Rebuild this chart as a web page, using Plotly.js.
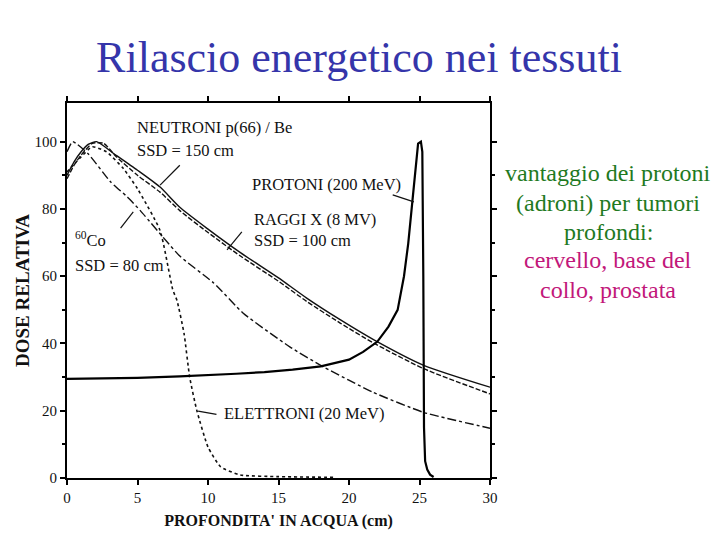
<!DOCTYPE html>
<html>
<head>
<meta charset="utf-8">
<script src="https://cdn.plot.ly/plotly-3.0.1.min.js"></script>
<style>html,body{margin:0;padding:0;background:#fff;}#chart{width:720px;height:540px;}</style>
</head>
<body>
<div id="chart"></div>
<script>
// ---- data (depth in cm, relative dose in %) ----
const xTickVals = [0, 5, 10, 15, 20, 25, 30];
const yTickVals = [0, 20, 40, 60, 80, 100];

const neutronDepth = [0, 0.5, 1, 1.8, 2.6, 3.5, 5, 6.6, 8, 10, 12.3, 15, 17, 19.4, 21.8, 25.3, 30];
const neutronDose  = [89, 93, 96, 99.5, 99.5, 95.5, 90, 85, 79.5, 73, 66, 58.5, 52.5, 46, 40, 32.5, 25];

const xrayDepth = [0, 0.5, 1, 1.5, 2.1, 3.3, 5, 6.6, 8, 10, 12.3, 15, 17, 19.4, 21.8, 25.3, 30];
const xrayDose  = [90, 94, 97, 99.2, 100, 96.5, 91.5, 86.5, 80.5, 74, 67, 59.5, 53.5, 47, 41, 33.5, 27];

const cobaltDepth = [0, 0.4, 1.5, 3.1, 4.3, 5.2, 8, 10.4, 12.5, 15.8, 18.2, 21.7, 25.3, 30];
const cobaltDose  = [97, 100, 96.4, 88, 83.5, 79.5, 66, 58, 49, 39, 33, 25.5, 19.5, 14.8];

const electronDepth = [0, 1, 1.8, 2.8, 4, 5, 6.6, 7.5, 7.8, 8.3, 8.7, 9.2, 10, 10.9, 12.3, 15, 19];
const electronDose  = [91, 95.5, 98.5, 97, 92, 86, 73.6, 56, 52.8, 43, 30, 20.2, 9.2, 3.3, 0.9, 0.4, 0.2];

const protonDepth = [0, 2, 5, 8, 10, 12, 14, 16, 18, 20, 21, 22, 22.8, 23.45, 23.9, 24.2, 24.5, 24.7, 24.9, 25.1, 25.2, 25.27, 25.32, 25.4, 25.55, 25.75, 26];
const protonDose  = [29.5, 29.6, 29.8, 30.2, 30.5, 31, 31.5, 32.2, 33.2, 35.2, 37.5, 40.5, 45, 50, 60, 69.7, 82.5, 90.5, 99.4, 100, 97, 60, 15, 5, 2.5, 1, 0.3];

const seriesLabels = ["NEUTRONI p(66) / Be", "RAGGI X (8 MV)", "<sup>60</sup>Co", "ELETTRONI (20 MeV)", "PROTONI (200 MeV)"];

const line = (c, w, d) => ({color: c, width: w, dash: d});
const traces = [
  {x: neutronDepth, y: neutronDose, name: seriesLabels[0], mode: 'lines', line: Object.assign(line('#111', 1.4, '5px,2px'), {shape: 'spline', smoothing: 0.6})},
  {x: xrayDepth, y: xrayDose, name: seriesLabels[1], mode: 'lines', line: Object.assign(line('#111', 1.4, 'solid'), {shape: 'spline', smoothing: 0.6})},
  {x: cobaltDepth, y: cobaltDose, name: seriesLabels[2], mode: 'lines', line: Object.assign(line('#111', 1.4, 'dashdot'), {shape: 'spline', smoothing: 0.5})},
  {x: electronDepth, y: electronDose, name: seriesLabels[3], mode: 'lines', line: Object.assign(line('#111', 1.6, 'dot'), {shape: 'spline', smoothing: 0.5})},
  {x: protonDepth, y: protonDose, name: seriesLabels[4], mode: 'lines', line: line('#000', 2.2, 'solid')}
];

const FAM = 'Liberation Serif';
const lblFont = {family: FAM, size: 16.5, color: '#111'};

function lbl(text, x, y) {
  return {text: text, x: x, y: y, xref: 'x', yref: 'y', xanchor: 'left', yanchor: 'middle', showarrow: false, font: lblFont};
}
// leader lines from the labels to the curves
function ptr(x0, y0, x1, y1) {
  return {type: 'line', xref: 'x', yref: 'y', x0: x0, y0: y0, x1: x1, y1: y1, line: {color: '#111', width: 1.2}};
}
const shapes = [
  ptr(6.6, 87.1, 8.0, 93.0),
  ptr(24.6, 82.1, 23.1, 84.2),
  ptr(11.35, 67.8, 12.4, 73.2),
  ptr(4.7, 79.1, 3.8, 74.3),
  ptr(9.3, 19.9, 10.6, 18.9)
];

const annotations = [
  lbl('NEUTRONI p(66) / Be', 4.8, 104.1),
  lbl('SSD = 150 cm', 4.8, 97.5),
  lbl('PROTONI (200 MeV)', 13.0, 87.4),
  lbl('RAGGI X (8 MV)', 13.1, 77.0),
  lbl('SSD = 100 cm', 13.1, 70.5),
  lbl('<sup>60</sup>Co', 0.4, 71.0),
  lbl('SSD = 80 cm', 0.4, 63.3),
  lbl('ELETTRONI (20 MeV)', 11.0, 19.3)
];

const sideLines = [
  ['vantaggio dei protoni', 173, '#1f7a1f'],
  ['(adroni) per tumori', 203, '#1f7a1f'],
  ['profondi:', 232, '#1f7a1f'],
  ['cervello, base del', 260, '#c2177a'],
  ['collo, prostata', 290, '#c2177a']
];
sideLines.forEach(s => {
  annotations.push({text: s[0], x: (608 - 67) / 423, y: (478 - s[1]) / 375, xref: 'paper', yref: 'paper',
    xanchor: 'center', yanchor: 'middle', showarrow: false, font: {family: FAM, size: 24, color: s[2]}});
});

const axisCommon = {
  showgrid: false, zeroline: false, showline: true, linecolor: '#000', linewidth: 2,
  ticks: 'outside', ticklen: 5, tickwidth: 1.5, tickcolor: '#000', mirror: 'ticks',
  tickfont: {family: FAM, size: 15, color: '#111'}
};

const layout = {
  width: 720, height: 540,
  margin: {l: 67, r: 230, t: 103, b: 62, pad: 0},
  paper_bgcolor: '#fff', plot_bgcolor: '#fff',
  showlegend: false,
  title: {text: 'Rilascio energetico nei tessuti', x: 359 / 720, xref: 'container', xanchor: 'center', y: 1 - 57 / 540, yref: 'container', yanchor: 'middle',
          font: {family: FAM, size: 44, color: '#3535aa'}},
  xaxis: Object.assign({}, axisCommon, {range: [0, 30], tickvals: xTickVals,
    title: {text: "PROFONDITA' IN ACQUA (cm)", standoff: 10, font: {family: FAM, size: 16, color: '#111', weight: 'bold'}}}),
  yaxis: Object.assign({}, axisCommon, {range: [0, 111.5], tickvals: yTickVals,
    minor: {tickvals: [10, 30, 50, 70, 90], ticklen: 3, ticks: 'outside', tickcolor: '#000'},
    title: {text: 'DOSE RELATIVA', standoff: 0, font: {family: FAM, size: 19, color: '#111', weight: 'bold'}}}),
  shapes: shapes,
  annotations: annotations
};

Plotly.newPlot('chart', traces, layout, {displayModeBar: false});
</script>
</body>
</html>
